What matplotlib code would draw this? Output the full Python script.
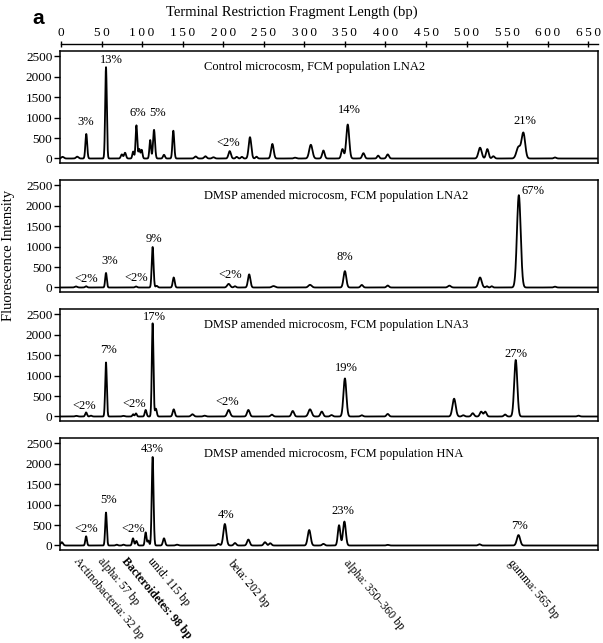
import numpy as np
import matplotlib
matplotlib.use("Agg")
import matplotlib.pyplot as plt

plt.rcParams['font.family'] = ['Liberation Serif', 'DejaVu Serif']

# ---------------- data ----------------
x_ticks = [0, 50, 100, 150, 200, 250, 300, 350, 400, 450, 500, 550, 600, 650]
y_ticks = [0, 500, 1000, 1500, 2000, 2500]

panel_titles = [
    "Control microcosm, FCM population LNA2",
    "DMSP amended microcosm, FCM population LNA2",
    "DMSP amended microcosm, FCM population LNA3",
    "DMSP amended microcosm, FCM population HNA",
]

# panel 1 peaks: fragment length (bp), height, width (bp)
p1_bp = [2, 20, 31.2, 55.5, 75, 79, 89, 93, 96.5, 99.5, 110, 114.7, 127, 138.5, 166, 178, 188,
         208, 216.6, 223, 233, 241, 260.6, 288.5, 308, 323.5, 347, 353.5, 372.8, 391, 402.8,
         516.6, 525.6, 533, 564, 570, 609]
p1_h = [40, 45, 600, 2230, 100, 140, 170, 810, 230, 210, 450, 700, 90, 680, 50, 55, 30,
        180, 40, 40, 520, 45, 355, 20, 335, 195, 230, 830, 130, 70, 100,
        265, 230, 55, 280, 620, 25]
p1_w = [1.5, 1.5, 1.1, 1.0, 1.2, 1.2, 1.0, 1.0, 1.0, 1.0, 1.0, 1.2, 1.2, 1.1, 1.5, 1.5, 1.5,
        1.5, 1.2, 1.2, 1.6, 1.2, 1.6, 1.5, 2.0, 1.5, 1.5, 1.8, 1.5, 1.3, 1.5,
        2.0, 1.6, 1.5, 2.5, 2.2, 1.5]

p2_bp = [18.5, 31, 55.5, 92.5, 113, 118, 139, 206.7, 214.5, 232, 262, 307, 350, 370.8, 402.8,
         478.8, 516.6, 525, 531, 564.4, 609]
p2_h = [25, 30, 355, 25, 990, 40, 245, 88, 30, 320, 35, 65, 400, 62, 48,
        45, 245, 30, 30, 2255, 20]
p2_w = [1.5, 1.2, 1.0, 1.2, 1.1, 1.2, 1.2, 1.8, 1.3, 1.5, 2.0, 2.0, 1.7, 1.5, 1.5,
        1.8, 2.0, 1.2, 1.2, 2.3, 1.5]

p3_bp = [19, 31, 37, 55.5, 77, 89, 92.5, 104.4, 113, 117, 139, 162, 177, 206.7, 231, 260, 285.7,
         307, 321.5, 333.5, 350, 370.8, 402.8, 484.6, 496, 507.6, 518, 523, 547.5, 560.6, 638]
p3_h = [15, 100, 20, 1320, 15, 55, 75, 160, 2280, 190, 175, 55, 20, 160, 160, 45, 135,
        175, 120, 35, 930, 30, 62, 435, 30, 80, 118, 118, 48, 1380, 20]
p3_w = [1.5, 1.1, 1.2, 1.0, 1.5, 1.0, 1.0, 1.1, 1.0, 1.1, 1.3, 1.6, 1.5, 1.8, 1.6, 1.5, 1.6,
        2.0, 1.6, 1.5, 1.8, 1.5, 1.5, 2.0, 1.5, 1.6, 1.6, 1.6, 1.5, 1.9, 1.5]

p4_bp = [1, 31, 55.5, 68.7, 77, 88.8, 93, 104.4, 107.7, 113, 127, 143, 194, 202, 214.5, 231,
         251.5, 258, 306, 323.5, 342.8, 349.4, 402.8, 515.8, 564]
p4_h = [80, 225, 805, 20, 20, 175, 110, 320, 120, 2165, 175, 20, 40, 525, 60, 145,
        80, 55, 378, 40, 495, 585, 15, 30, 255]
p4_w = [1.5, 1.0, 1.0, 1.2, 1.2, 1.1, 1.1, 1.0, 1.0, 1.1, 1.3, 1.5, 1.5, 1.8, 1.5, 1.6,
        1.6, 1.5, 1.8, 1.5, 1.5, 1.7, 1.5, 1.5, 2.0]

# percent labels: text, bp, intensity
p1_lab = ["3%", "13%", "6%", "5%", "<2%", "14%", "21%"]
p1_lab_bp = [31, 62.5, 95, 119.6, 206, 355, 572]
p1_lab_y = [890, 2400, 1105, 1105, 373, 1178, 908]

p2_lab = ["<2%", "3%", "<2%", "9%", "<2%", "8%", "67%"]
p2_lab_bp = [31, 60.4, 92.5, 114.7, 208, 350, 581.6]
p2_lab_y = [215, 656, 226, 1183, 308, 736, 2357]

p3_lab = ["<2%", "7%", "<2%", "17%", "<2%", "19%", "27%"]
p3_lab_bp = [28.4, 58.4, 90, 114.7, 205.5, 351.4, 560.6]
p3_lab_y = [262, 1634, 311, 2434, 343, 1186, 1519]

p4_lab = ["<2%", "5%", "<2%", "43%", "4%", "23%", "7%"]
p4_lab_bp = [31, 58.4, 89, 113, 203, 348, 565]
p4_lab_y = [406, 1118, 406, 2350, 745, 832, 486]

group_labels = ["Actinobacteria: 32 bp", "alpha: 57 bp", "Bacteroidetes: 98 bp", "unid: 115 bp",
                "beta: 202 bp", "alpha: 350\u2013360 bp", "gamma: 565 bp"]
group_bold = [False, False, True, False, False, False, False]

panels = [
    (p1_bp, p1_h, p1_w, p1_lab, p1_lab_bp, p1_lab_y),
    (p2_bp, p2_h, p2_w, p2_lab, p2_lab_bp, p2_lab_y),
    (p3_bp, p3_h, p3_w, p3_lab, p3_lab_bp, p3_lab_y),
    (p4_bp, p4_h, p4_w, p4_lab, p4_lab_bp, p4_lab_y),
]

# ---------------- layout ----------------
W, H = 603, 643
fig = plt.figure(figsize=(W / 100, H / 100), dpi=100)
fig.patch.set_facecolor('white')

def fx(px):
    return px / W

def fy(py):
    return 1 - py / H

XL = (-1.2, 662)
YL = (-110, 2625)
left_px, right_px = 60, 598
panel_tops = [51, 180, 309, 438]
panel_h = 112

grid = np.linspace(XL[0], XL[1], 4000)

for i, (bp, h, w, lab, lbp, ly) in enumerate(panels):
    top = panel_tops[i]
    ax = fig.add_axes([fx(left_px), fy(top + panel_h), fx(right_px - left_px), panel_h / H])
    bp = np.asarray(bp); h = np.asarray(h); w = np.asarray(w)
    trace = (h[:, None] * np.exp(-0.5 * ((grid[None, :] - bp[:, None]) / w[:, None]) ** 2)).sum(axis=0)
    ax.plot(grid, trace, color='black', lw=1.3)
    ax.set_xlim(*XL)
    ax.set_ylim(*YL)
    ax.set_xticks([])
    ax.set_yticks(y_ticks)
    ax.tick_params(axis='y', direction='out', length=4, width=1, labelsize=9.5, pad=1.5)
    for s in ax.spines.values():
        s.set_linewidth(1.1)
    ax.text((204 - left_px) / (right_px - left_px), 1 - 16 / panel_h, panel_titles[i],
            transform=ax.transAxes, ha='left', va='center', fontsize=9)
    for t, xb, yv in zip(lab, lbp, ly):
        ax.text(xb, yv, t, ha='center', va='center', fontsize=9)

# top axis
axt = fig.add_axes([fx(left_px), fy(44), fx(right_px - left_px), 0.0001])
axt.set_xlim(*XL)
axt.set_yticks([])
for k in ['left', 'right', 'bottom']:
    axt.spines[k].set_visible(False)
axt.spines['top'].set_bounds(0, XL[1])
axt.spines['top'].set_linewidth(1.0)
axt.xaxis.set_ticks_position('top')
axt.set_xticks(x_ticks)
axt.set_xticklabels(["\u2009".join(str(v)) for v in x_ticks])
axt.tick_params(axis='x', direction='inout', length=5, width=1, labelsize=9.5, pad=1)
axt.patch.set_visible(False)

# titles and labels
fig.text(fx(292), fy(12), "Terminal Restriction Fragment Length (bp)", ha='center', va='center',
         fontsize=10.5)
fig.text(fx(38), fy(19), "a", ha='center', va='center', fontsize=15, fontweight='bold',
         family=['Liberation Sans', 'DejaVu Sans'])
fig.text(fx(9), fy(255), "Fluorescence Intensity", rotation=90, ha='center', va='center',
         fontsize=10.5)

# taxon labels under the bottom panel
group_anchor_bp = [23.4, 53, 82.6, 114.7, 213, 356, 558.6]
group_anchor_py = [555, 555, 555, 555, 557, 557, 557]
for t, xb, py, b in zip(group_labels, group_anchor_bp, group_anchor_py, group_bold):
    xpx = left_px + (xb - XL[0]) / (XL[1] - XL[0]) * (right_px - left_px)
    fig.text(fx(xpx), fy(py), t, rotation=-50, rotation_mode='anchor', ha='left', va='top',
             fontsize=8.5, fontweight='bold' if b else 'normal')

fig.savefig("out.png", dpi=100, facecolor='white')
